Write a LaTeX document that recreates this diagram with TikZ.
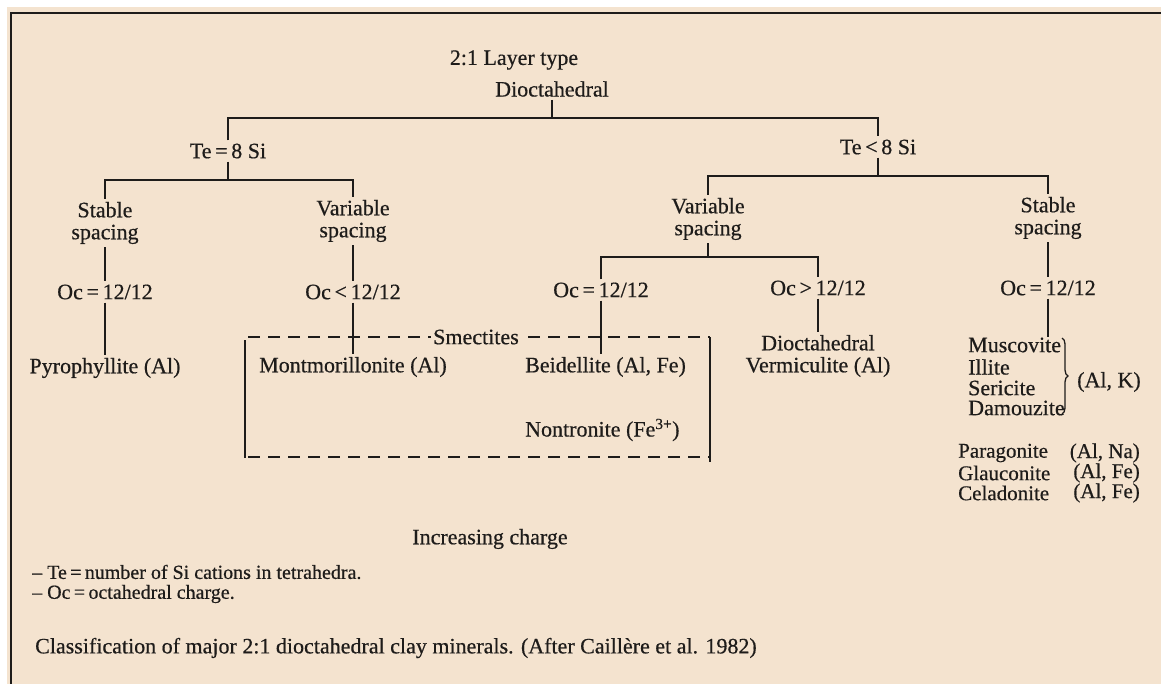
\documentclass[tikz,border=0pt]{standalone}
\usepackage{fontspec}
\setmainfont{Liberation Serif}[FakeBold=0.5]
\usetikzlibrary{decorations.pathreplacing}
\definecolor{paper}{RGB}{244,227,207}
\definecolor{ink}{RGB}{30,28,26}
\begin{document}
\begin{tikzpicture}[x=1pt,y=-1pt,
  lbl/.style={font=\fontsize{22}{22}\selectfont, text=ink, inner xsep=2pt, inner ysep=3pt, align=center},
  note/.style={font=\fontsize{21}{21}\selectfont, text=ink, inner xsep=2pt, inner ysep=0pt, anchor=west},
  small/.style={font=\fontsize{20}{20}\selectfont, text=ink, inner xsep=2pt, inner ysep=0pt, anchor=west},
  tree/.style={draw=ink, line width=1.8pt},
  frame/.style={draw=ink, line width=2.4pt},
  side/.style={draw=ink, line width=1.6pt},
  smect/.style={draw=ink, line width=1.6pt, dash pattern=on 12pt off 8pt},
]
\useasboundingbox (0,0) rectangle (1161,684);
% paper and frame
\fill[white] (0,0) rectangle (1161,684);
\fill[paper] (7,7) rectangle (1161,684);
\draw[frame] (11,684) -- (11,13) -- (1161,13);

% header
\node[lbl] (title) at (514,60) {2:1 Layer type};
\node[lbl] (dioc) at (552,89) {Dioctahedral};

% tetrahedral branches
\node[lbl] (te8) at (228,151) {Te\,=\,8 Si};
\node[lbl] (telt) at (878,147) {Te\,<\,8 Si};

% spacing
\node[lbl] (ss1) at (105,223) {Stable\\spacing};
\node[lbl] (vs1) at (353,221) {Variable\\spacing};
\node[lbl] (vs2) at (708,219) {Variable\\spacing};
\node[lbl] (ss2) at (1048,218) {Stable\\spacing};

% octahedral charge
\node[lbl] (oc1) at (105,292) {Oc\,=\,12/12};
\node[lbl] (oc2) at (353,292) {Oc\,<\,12/12};
\node[lbl] (oc3) at (601,290) {Oc\,=\,12/12};
\node[lbl] (oc4) at (818,288) {Oc\,>\,12/12};
\node[lbl] (oc5) at (1048,288) {Oc\,=\,12/12};

% smectite group box
\draw[smect] (248,337) -- (710,337);
\draw[side] (245,340) -- (245,458);
\draw[side] (710,337) -- (710,462);
\draw[smect] (248,457) -- (710,457);
\node[lbl, fill=paper, inner xsep=2pt, inner ysep=0pt] (smec) at (476,337) {Smectites};

% minerals
\node[lbl] (pyro) at (105,368) {Pyrophyllite (Al)};
\node[lbl] (mont) at (353,367) {Montmorillonite (Al)};
\node[lbl, anchor=west] (beid) at (523,367) {Beidellite (Al, Fe)};
\node[lbl, anchor=west] (nont) at (523,430) {Nontronite (Fe\textsuperscript{3+})};
\node[lbl] (diov) at (818,356) {Dioctahedral\\Vermiculite (Al)};

\node[lbl, anchor=west, inner ysep=0pt] (musc) at (966,345) {Muscovite};
\node[lbl, anchor=west, inner ysep=0pt] (illi) at (966,367) {Illite};
\node[lbl, anchor=west, inner ysep=0pt] (seri) at (966,388) {Sericite};
\node[lbl, anchor=west, inner ysep=0pt] (damo) at (966,408) {Damouzite};
\draw[decorate, decoration={brace, amplitude=6pt}, draw=ink, line width=1.3pt]
  (1062,338) -- (1062,414);
\node[lbl, anchor=west] (alk) at (1075,382) {(Al, K)};

\node[note] (para) at (956,453) {Paragonite};
\node[note, anchor=east] (paran) at (1142,453) {(Al, Na)};
\node[note] (glau) at (956,473) {Glauconite};
\node[note, anchor=east] (glaun) at (1142,473) {(Al, Fe)};
\node[note] (cela) at (956,493) {Celadonite};
\node[note, anchor=east] (celan) at (1142,493) {(Al, Fe)};

% footer
\node[lbl] (incr) at (490,539) {Increasing charge};
\node[small] (note1) at (30,572) {-- Te\,=\,number of Si cations in tetrahedra.};
\node[small] (note2) at (30,594) {-- Oc\,=\,octahedral charge.};
\node[lbl, anchor=west] (capt) at (33,648) {Classification of major 2:1 dioctahedral clay minerals. (After Caillère et al. 1982)};

% tree connectors
\coordinate (j0) at (552,118);
\coordinate (j1) at (228,180);
\coordinate (j2) at (878,176);
\coordinate (j3) at (708,257);
\draw[tree] (dioc) -- (j0);
\draw[tree] (te8) |- (j0) -| (telt);
\draw[tree] (te8) -- (j1);
\draw[tree] (ss1) |- (j1) -| (vs1);
\draw[tree] (telt) -- (j2);
\draw[tree] (vs2) |- (j2) -| (ss2);
\draw[tree] (vs2) -- (j3);
\draw[tree] (oc3) |- (j3) -| (oc4);
\draw[tree] (ss1) -- (oc1);
\draw[tree] (oc1) -- (pyro);
\draw[tree] (vs1) -- (oc2);
\draw[tree] (oc2) -- (mont);
\draw[tree] (oc3) -- (oc3 |- beid.north);
\draw[tree] (oc4) -- (diov);
\draw[tree] (ss2) -- (oc5);
\draw[tree] (oc5) -- (oc5 |- musc.north);
\end{tikzpicture}
\end{document}
